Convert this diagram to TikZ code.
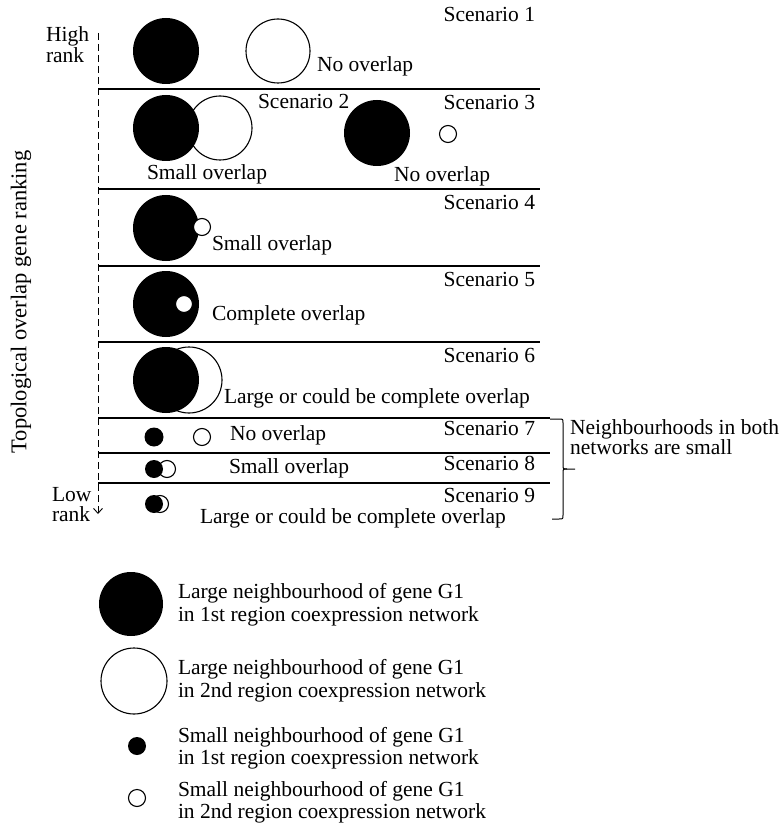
\documentclass[tikz,border=0pt]{standalone}
\usepackage{fontspec}
\setmainfont{Liberation Serif}
\usetikzlibrary{arrows.meta}
\begin{document}
\begin{tikzpicture}[x=1pt,y=-1pt,
  every node/.style={inner sep=0pt, outer sep=0pt},
  txt/.style={font=\fontsize{21.5}{24}\selectfont},
  bigblack/.style={circle, fill=black, minimum size=66pt},
  bigwhite/.style={circle, draw=black, fill=white, line width=1.1pt, minimum size=64pt},
  smallblack/.style={circle, fill=black, minimum size=18pt},
  smallwhite/.style={circle, draw=black, fill=white, line width=1.1pt, minimum size=#1},
  smallwhite/.default=17pt,
  sep/.style={line width=1.3pt},
  rankaxis/.style={line width=0.9pt, dash pattern=on 7pt off 4pt, -{Straight Barb[length=5pt,width=9pt]}},
]
\useasboundingbox (0,0) rectangle (783,826);

% rank axis
\coordinate (axtop) at (98,33);
\coordinate (axbot) at (98,514);
\draw[rankaxis] (axtop) -- (axbot);
\node[txt, anchor=base west] (high) at (46,42) {High};
\node[txt, anchor=base west] (highr) at (46,63) {rank};
\node[txt, anchor=base west] (low) at (52,501) {Low};
\node[txt, anchor=base west] (lowr) at (52,521) {rank};
\node[txt, font=\fontsize{22.5}{24}\selectfont, rotate=90] (axlabel) at (21,302) {Topological overlap gene ranking};

% separators
\foreach \yy/\xe [count=\i] in {89/540, 189/540, 266/540, 342/540, 418/550, 453/550, 483/550}{
  \coordinate (l\i) at (98,\yy);
  \coordinate (r\i) at (\xe,\yy);
  \draw[sep] (l\i) -- (r\i);
}

% Scenario 1
\node[bigblack] (s1b) at (166,51) {};
\node[bigwhite] (s1w) at (278,51) {};
\node[txt, anchor=base east] (sc1) at (535,22) {Scenario 1};
\node[txt, anchor=base west] (t1) at (317,72) {No overlap};

% Scenario 2
\node[bigwhite] (s2w) at (220,128) {};
\node[bigblack] (s2b) at (166,128) {};
\node[txt, anchor=base west] (sc2) at (258,109) {Scenario 2};
\node[txt, anchor=base west] (t2) at (147,180) {Small overlap};

% Scenario 3
\node[bigblack] (s3b) at (377,133) {};
\node[smallwhite] (s3w) at (448,134) {};
\node[txt, anchor=base east] (sc3) at (535,110) {Scenario 3};
\node[txt, anchor=base west] (t3) at (394,182) {No overlap};

% Scenario 4
\node[bigblack] (s4b) at (166,228) {};
\node[smallwhite] (s4w) at (202,227) {};
\node[txt, anchor=base east] (sc4) at (535,210) {Scenario 4};
\node[txt, anchor=base west] (t4) at (212,250) {Small overlap};

% Scenario 5
\node[bigblack] (s5b) at (166,304) {};
\node[smallwhite] (s5w) at (184,304) {};
\node[txt, anchor=base east] (sc5) at (535,286) {Scenario 5};
\node[txt, anchor=base west] (t5) at (212,320) {Complete overlap};

% Scenario 6
\node[bigwhite, minimum size=66pt] (s6w) at (189,380) {};
\node[bigblack] (s6b) at (166,380) {};
\node[txt, anchor=base east] (sc6) at (535,362) {Scenario 6};
\node[txt, anchor=base west] (t6) at (224,403) {Large or could be complete overlap};

% Scenario 7
\node[smallblack, minimum size=19pt] (s7b) at (154,437) {};
\node[smallwhite] (s7w) at (202,437) {};
\node[txt, anchor=base east] (sc7) at (535,435) {Scenario 7};
\node[txt, anchor=base west] (t7) at (230,440) {No overlap};

% Scenario 8
\node[smallwhite] (s8w) at (167,469) {};
\node[smallblack] (s8b) at (154,469) {};
\node[txt, anchor=base east] (sc8) at (535,470) {Scenario 8};
\node[txt, anchor=base west] (t8) at (229,473) {Small overlap};

% Scenario 9
\node[smallwhite] (s9w) at (160,504) {};
\node[smallblack] (s9b) at (154,504) {};
\node[txt, anchor=base east] (sc9) at (535,502) {Scenario 9};
\node[txt, anchor=base west] (t9) at (200,523) {Large or could be complete overlap};

% brace
\coordinate (bt) at (550,419);
\coordinate (bb) at (552,519);
\coordinate (btip) at (575,469);
\draw[line width=1pt] (bt) -- (559,419) .. controls (563,419) .. (563,423) -- (563,465)
   .. controls (563,469) .. (567,469) -- (btip);
\draw[line width=1pt] (bb) -- (559,519) .. controls (563,519) .. (563,515) -- (563,473)
   .. controls (563,469) .. (567,469);
\node[txt, anchor=base west] (bn1) at (570,434) {Neighbourhoods in both};
\node[txt, anchor=base west] (bn2) at (570,454) {networks are small};

% legend
\node[bigblack, minimum size=64pt] (lg1) at (131,604) {};
\node[bigwhite, minimum size=66pt] (lg2) at (134,681) {};
\node[smallblack] (lg3) at (137,746) {};
\node[smallwhite] (lg4) at (137,798) {};
\node[txt, anchor=base west] (lg1a) at (178,598) {Large neighbourhood of gene G1};
\node[txt, anchor=base west] (lg1b) at (178,621) {in 1st region coexpression network};
\node[txt, anchor=base west] (lg2a) at (178,674) {Large neighbourhood of gene G1};
\node[txt, anchor=base west] (lg2b) at (178,697) {in 2nd region coexpression network};
\node[txt, anchor=base west] (lg3a) at (178,742) {Small neighbourhood of gene G1};
\node[txt, anchor=base west] (lg3b) at (178,764) {in 1st region coexpression network};
\node[txt, anchor=base west] (lg4a) at (178,796) {Small neighbourhood of gene G1};
\node[txt, anchor=base west] (lg4b) at (178,818) {in 2nd region coexpression network};
\end{tikzpicture}
\end{document}
